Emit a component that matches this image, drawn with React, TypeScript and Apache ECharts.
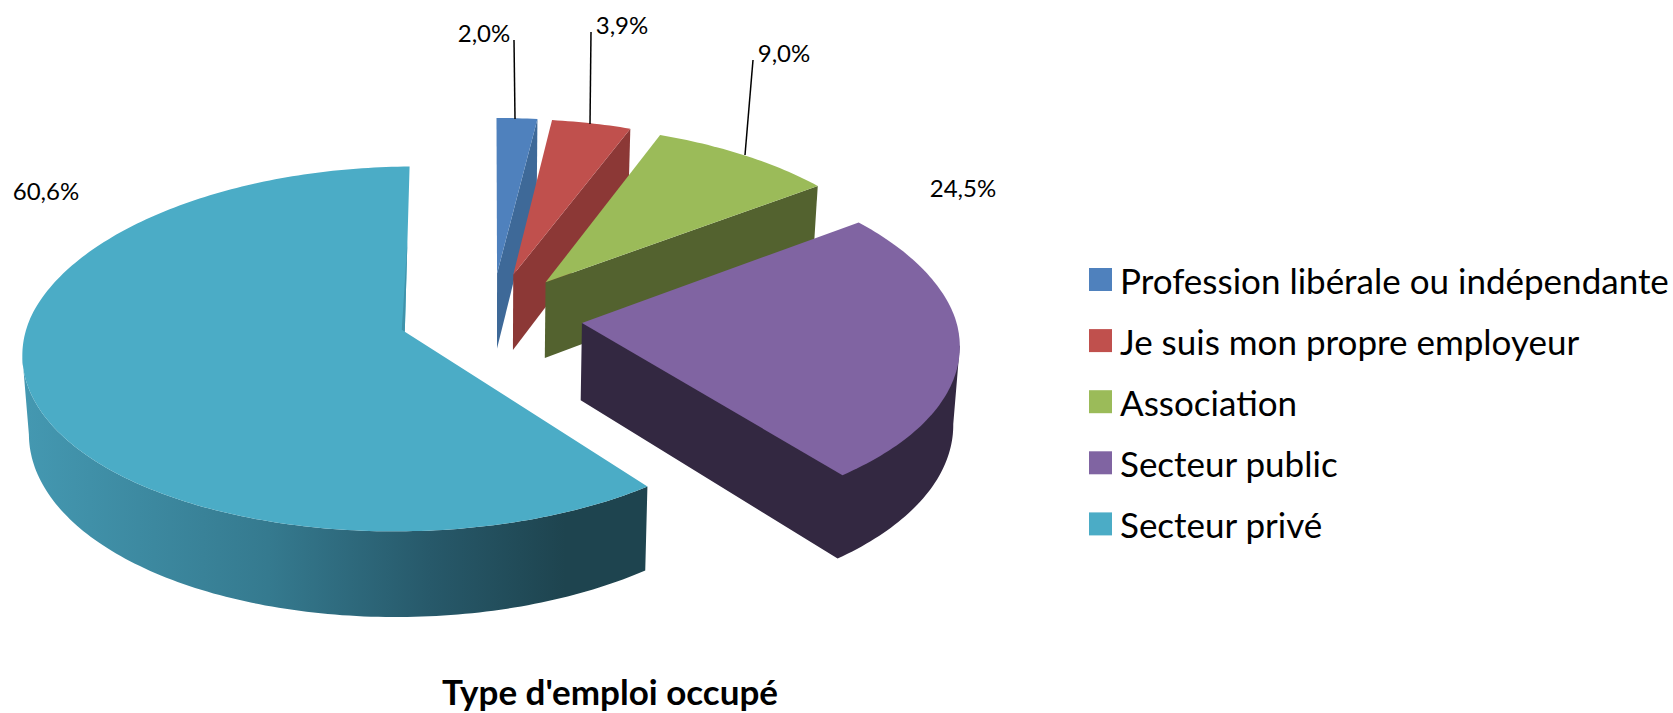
import React, { useEffect, useRef } from "react";
import * as echarts from "echarts";

const categories = [
  "Profession libérale ou indépendante",
  "Je suis mon propre employeur",
  "Association",
  "Secteur public",
  "Secteur privé",
];
const shares = [2.0, 3.9, 9.0, 24.5, 60.6];
const chartTitle = "Type d'emploi occupé";

const topColors = ["#4f81bd", "#c0504d", "#9bbb59", "#8064a2", "#4bacc6"];
const sideColors = ["#3e6998", "#8c3836", "#53622f", "#332841", "#3f93ab"];

// Projection of the tilted disc
const cx = 491.5;
const cy = 317;
const R = 379;
const A = 178;
const P = 0.094;
const PX_BACK = 0.115;
const PX_FRONT = 0.105;
const RIGHT_SCALE = 0.985;
const LEFT_SCALE = 0.992;
const EXPLODE_X = 0.24;
const EXPLODE_Y = 0.25;
const DEPTH = 77;
const Q = 0.986;
const LAST_END_TILT = 0.7;
const LAST_START_TILT = 0.6;

// Where each label sits; leader is [fromX, fromY, toX, toY] in pixels
const labelLayout: { x: number; y: number; leader?: number[] }[] = [
  { x: 484, y: 32, leader: [514, 40, 515, 119] },
  { x: 622, y: 24, leader: [591, 32, 590, 124] },
  { x: 784, y: 52, leader: [753, 60, 745, 155] },
  { x: 963, y: 187 },
  { x: 46, y: 190 },
];

function project(X: number, Y: number) {
  const s = 1 / (1 - P * Y);
  const sx = 1 / (1 - (Y < 0 ? PX_BACK : PX_FRONT) * Y);
  return { x: cx + R * X * sx, y: cy + A * Y * s, s };
}
function lower(p: { x: number; y: number; s: number }) {
  return [cx + (p.x - cx) * Q, p.y + DEPTH * p.s];
}
const rad = (d: number) => (d * Math.PI) / 180;

function renderSlice(params: any, api: any) {
  const i = params.seriesIndex;
  const value = api.value(0);
  const before = api.value(1);
  const a0 = before * 3.6;
  const a1 = (before + value) * 3.6;
  const isLast = Math.abs(a1 - 360) < 0.01;
  const mid = rad((a0 + a1) / 2);
  const ox = EXPLODE_X * Math.sin(mid);
  const oy = -EXPLODE_Y * Math.cos(mid);
  const apex = project(ox, oy);
  const rim: any[] = [];
  const begin = isLast ? a0 + LAST_START_TILT : a0;
  const end = isLast ? a1 - LAST_END_TILT : a1;
  const steps = Math.max(6, Math.ceil(end - begin));
  for (let k = 0; k <= steps; k++) {
    const t = rad(begin + ((end - begin) * k) / steps);
    const sn = Math.sin(t);
    rim.push(project(ox + sn * (sn > 0 ? RIGHT_SCALE : LEFT_SCALE), oy - Math.cos(t)));
  }
  const children: any[] = [];
  const front: any[] = [];
  for (let k = 0; k < rim.length - 1; k++) {
    if (rim[k + 1].x < rim[k].x) {
      if (!front.length) front.push(rim[k]);
      front.push(rim[k + 1]);
    }
  }
  const last = rim[rim.length - 1];
  if (isLast) {
    const pts = front.map((p) => [p.x, p.y]).concat(front.slice().reverse().map(lower));
    children.push({
      type: "polygon",
      shape: { points: pts },
      style: {
        fill: new echarts.graphic.LinearGradient(
          25, 0, 565, 0,
          [
            { offset: 0, color: "#4498b1" },
            { offset: 0.45, color: "#357a8f" },
            { offset: 0.75, color: "#27596a" },
            { offset: 1, color: "#1e444f" },
          ],
          true
        ),
      },
    });
  } else {
    const tops = front.length > 1 ? front : [last];
    const pts = [[apex.x, apex.y], [tops[0].x, tops[0].y]]
      .concat(tops.map(lower))
      .concat([lower(apex)]);
    children.push({
      type: "polygon",
      shape: { points: pts },
      style: { fill: sideColors[i] },
    });
  }
  children.push({
    type: "polygon",
    shape: { points: [[apex.x, apex.y]].concat(rim.map((p) => [p.x, p.y])) },
    style: { fill: topColors[i] },
  });
  if (isLast) {
    const m = { x: apex.x + (last.x - apex.x) * 0.55, y: apex.y + (last.y - apex.y) * 0.55 };
    children.push({
      type: "polygon",
      shape: { points: [[m.x, m.y], [apex.x, apex.y], [apex.x - 3, apex.y - 2]] },
      style: { fill: sideColors[i] },
    });
  }
  const lay = labelLayout[i];
  if (lay.leader) {
    const [x1, y1, x2, y2] = lay.leader;
    children.push({
      type: "line",
      shape: { x1, y1, x2, y2 },
      style: { stroke: "#000000", lineWidth: 1.5 },
    });
  }
  children.push({
    type: "text",
    style: {
      x: lay.x,
      y: lay.y,
      text: value.toFixed(1).replace(".", ",") + "%",
      fill: "#000000",
      font: '24px Lato, "Open Sans", sans-serif',
      textAlign: "center",
      textVerticalAlign: "middle",
    },
  });
  return { type: "group", children };
}

export default function App() {
  const ref = useRef<HTMLDivElement>(null);
  useEffect(() => {
    document.body.style.margin = "0";
    document.body.style.overflow = "hidden";
    const chart = echarts.init(ref.current!, null, { renderer: "svg" });
    let acc = 0;
    const series = categories.map((name, i) => {
      const start = acc;
      acc += shares[i];
      return {
        type: "custom",
        name,
        coordinateSystem: "none",
        itemStyle: { color: topColors[i] },
        renderItem: renderSlice,
        silent: true,
        data: [[shares[i], start]],
      };
    });
    chart.setOption({
      animation: false,
      backgroundColor: "#ffffff",
      title: {
        text: chartTitle,
        left: 610,
        top: 673,
        padding: 0,
        textAlign: "center",
        textStyle: { fontFamily: "Lato, sans-serif", fontWeight: "bold", fontSize: 35, lineHeight: 36, color: "#000000" },
      },
      legend: {
        orient: "vertical",
        left: 1084,
        top: 257,
        icon: "rect",
        itemWidth: 23,
        itemHeight: 23,
        itemGap: 26.1,
        selectedMode: false,
        data: categories,
        textStyle: {
          fontFamily: "Lato, sans-serif",
          fontSize: 35,
          lineHeight: 30,
          color: "#000000",
          padding: [0, 0, 0, 3],
        },
      },
      series,
    });
    return () => chart.dispose();
  }, []);
  return <div ref={ref} style={{ width: 1673, height: 713 }} />;
}
